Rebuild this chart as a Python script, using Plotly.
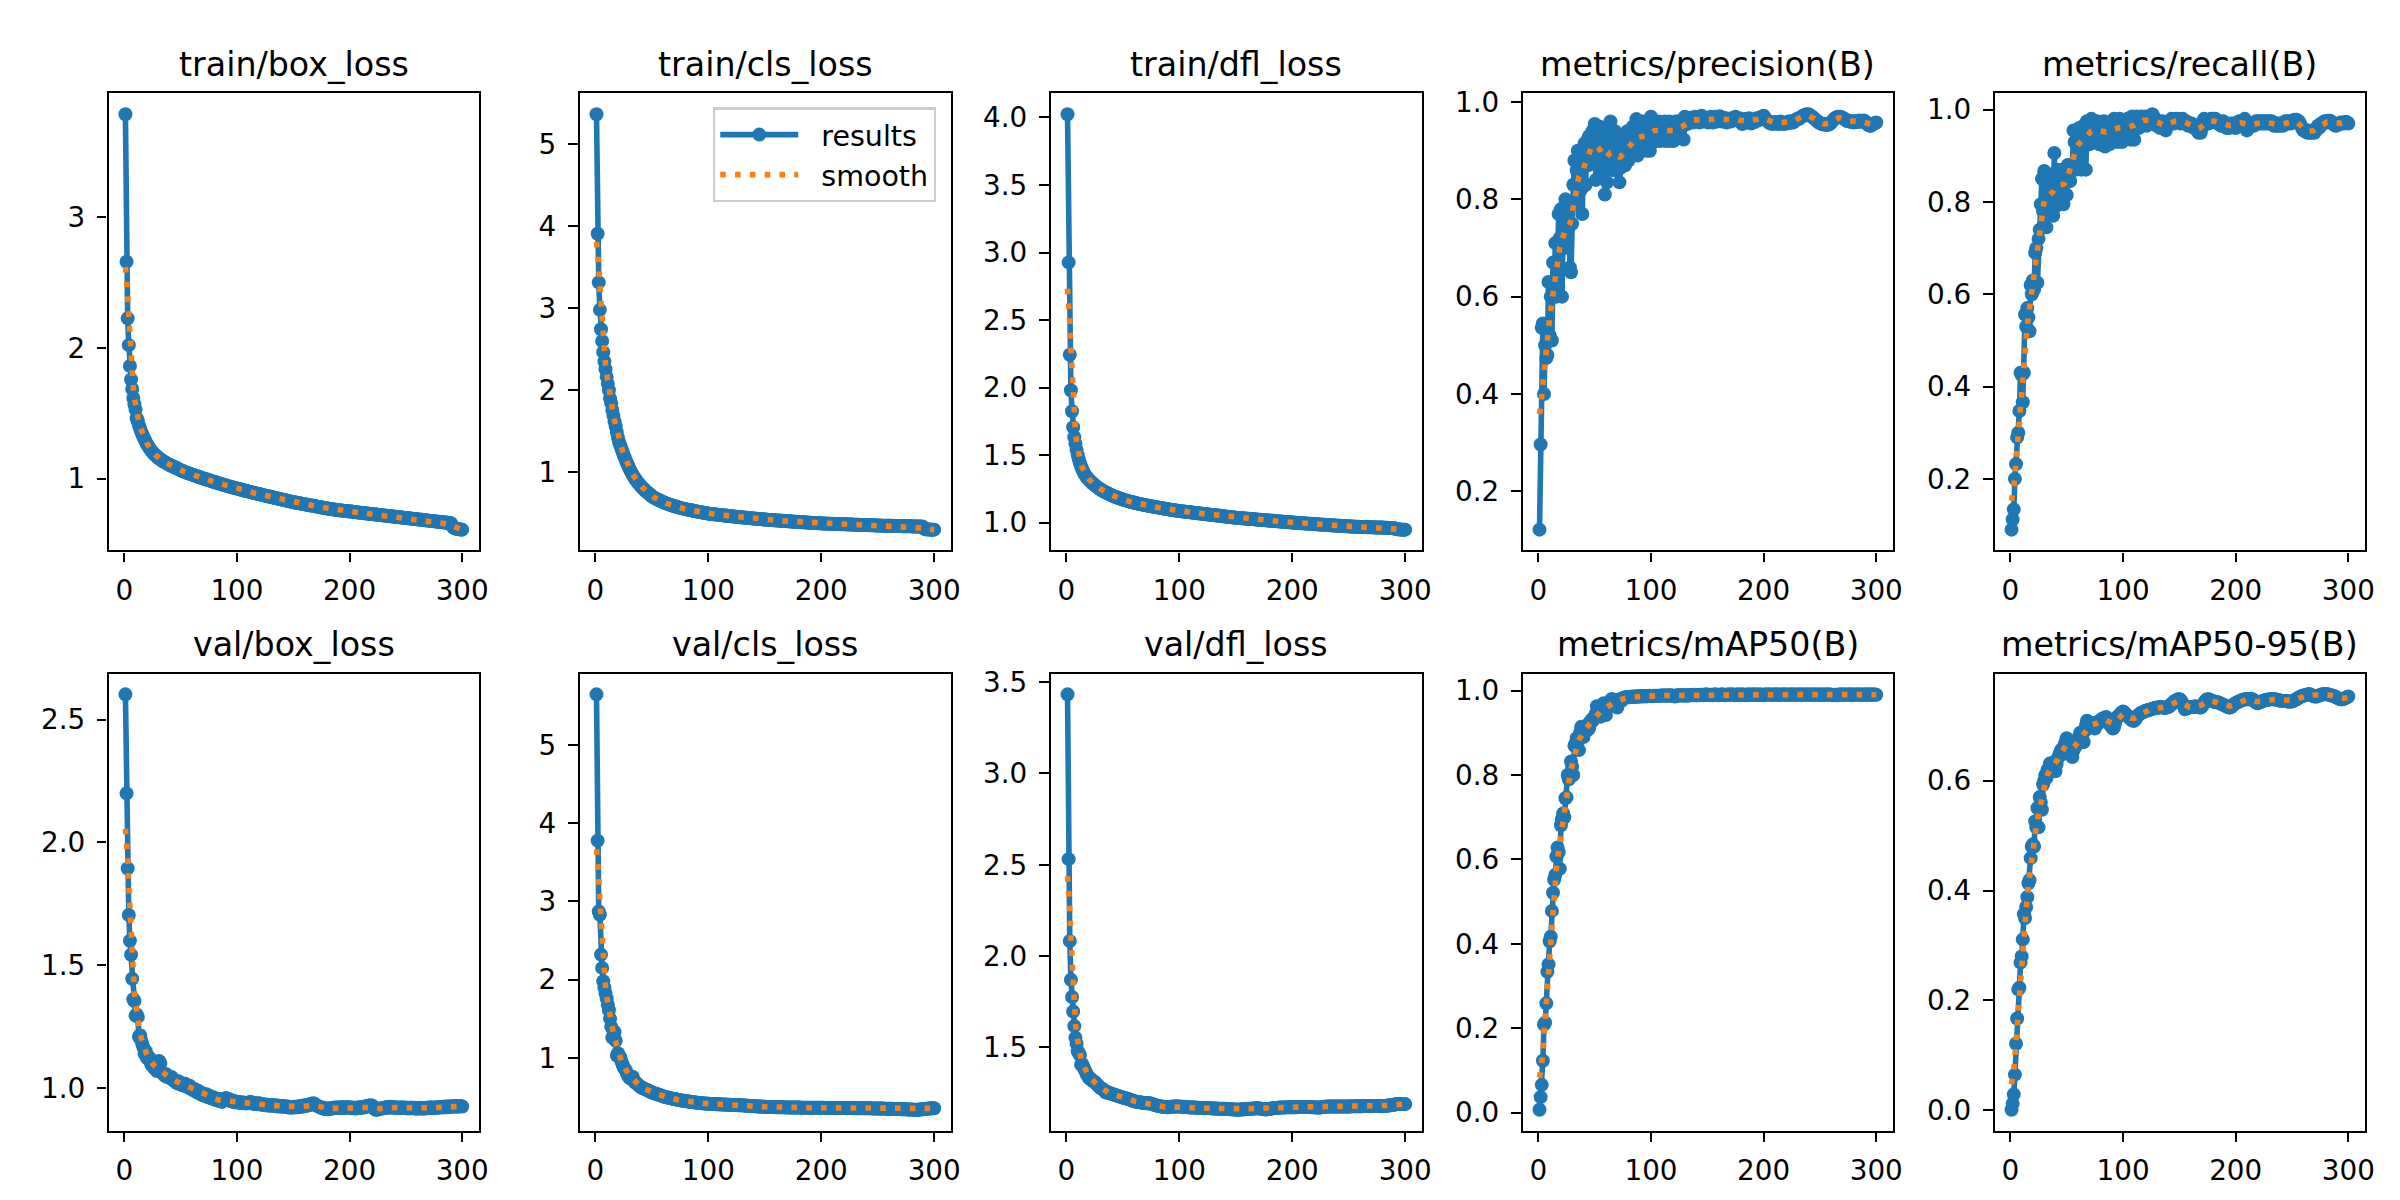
import numpy as np
import plotly.graph_objects as go

epochs = list(range(1, 301))

train_box_loss = [
3.789,2.660,2.227,2.022,1.862,1.759,1.687,1.617,1.570,1.530,
1.462,1.440,1.408,1.384,1.360,1.340,1.318,1.300,1.283,1.266,
1.252,1.238,1.226,1.213,1.204,1.192,1.185,1.176,1.170,1.160,
1.155,1.148,1.143,1.135,1.132,1.125,1.121,1.117,1.110,1.107,
1.103,1.097,1.095,1.089,1.087,1.081,1.079,1.073,1.071,1.064,
1.061,1.056,1.055,1.050,1.048,1.043,1.042,1.037,1.036,1.031,
1.030,1.025,1.024,1.019,1.018,1.013,1.012,1.007,1.006,1.002,
1.000,0.996,0.995,0.990,0.989,0.985,0.984,0.979,0.978,0.974,
0.973,0.968,0.968,0.963,0.962,0.958,0.957,0.952,0.952,0.947,
0.947,0.942,0.942,0.937,0.937,0.932,0.932,0.928,0.928,0.925,
0.922,0.921,0.917,0.917,0.912,0.912,0.908,0.908,0.903,0.903,
0.899,0.899,0.895,0.894,0.891,0.890,0.886,0.886,0.882,0.882,
0.878,0.877,0.874,0.873,0.870,0.869,0.866,0.865,0.862,0.861,
0.858,0.857,0.854,0.853,0.850,0.849,0.846,0.845,0.842,0.841,
0.838,0.837,0.834,0.833,0.830,0.829,0.826,0.825,0.822,0.820,
0.819,0.817,0.816,0.814,0.813,0.810,0.810,0.807,0.806,0.804,
0.803,0.801,0.800,0.797,0.797,0.794,0.794,0.791,0.790,0.788,
0.787,0.785,0.784,0.781,0.781,0.778,0.778,0.775,0.774,0.772,
0.771,0.770,0.768,0.767,0.766,0.764,0.763,0.762,0.760,0.759,
0.758,0.757,0.756,0.755,0.754,0.753,0.752,0.751,0.750,0.749,
0.748,0.748,0.746,0.745,0.745,0.743,0.742,0.742,0.740,0.739,
0.738,0.737,0.736,0.735,0.734,0.733,0.732,0.731,0.730,0.729,
0.728,0.727,0.726,0.725,0.724,0.723,0.722,0.721,0.720,0.719,
0.718,0.717,0.716,0.715,0.714,0.713,0.712,0.711,0.710,0.709,
0.708,0.707,0.706,0.705,0.704,0.703,0.702,0.701,0.700,0.699,
0.698,0.697,0.697,0.695,0.694,0.694,0.692,0.691,0.691,0.689,
0.688,0.688,0.686,0.685,0.685,0.683,0.682,0.682,0.680,0.679,
0.679,0.677,0.676,0.676,0.674,0.673,0.673,0.671,0.670,0.670,
0.668,0.667,0.667,0.665,0.664,0.664,0.662,0.661,0.661,0.659,
0.640,0.628,0.622,0.619,0.616,0.614,0.613,0.612,0.611,0.610]

train_cls_loss = [
5.365,3.907,3.315,2.980,2.744,2.600,2.464,2.350,2.255,2.163,
2.080,2.000,1.900,1.840,1.760,1.690,1.620,1.560,1.490,1.420,
1.370,1.330,1.290,1.250,1.210,1.180,1.140,1.110,1.080,1.050,
1.020,0.995,0.970,0.945,0.925,0.905,0.885,0.868,0.852,0.838,
0.820,0.806,0.792,0.779,0.767,0.755,0.744,0.732,0.720,0.708,
0.699,0.690,0.682,0.675,0.668,0.661,0.654,0.648,0.642,0.636,
0.630,0.624,0.619,0.614,0.609,0.604,0.599,0.594,0.590,0.586,
0.582,0.578,0.574,0.570,0.566,0.562,0.559,0.556,0.553,0.550,
0.547,0.544,0.541,0.538,0.535,0.532,0.529,0.526,0.523,0.521,
0.518,0.516,0.513,0.511,0.508,0.506,0.503,0.501,0.499,0.497,
0.494,0.492,0.491,0.489,0.488,0.486,0.484,0.483,0.481,0.480,
0.478,0.476,0.475,0.473,0.472,0.470,0.469,0.467,0.466,0.464,
0.463,0.461,0.460,0.458,0.457,0.455,0.454,0.452,0.451,0.449,
0.448,0.447,0.445,0.444,0.443,0.441,0.440,0.439,0.437,0.436,
0.435,0.434,0.432,0.431,0.430,0.429,0.427,0.426,0.425,0.424,
0.423,0.422,0.421,0.419,0.418,0.417,0.416,0.415,0.414,0.413,
0.412,0.411,0.410,0.409,0.408,0.407,0.406,0.405,0.404,0.403,
0.402,0.401,0.400,0.399,0.398,0.397,0.396,0.395,0.394,0.393,
0.392,0.391,0.390,0.389,0.389,0.388,0.387,0.386,0.385,0.384,
0.383,0.382,0.382,0.381,0.380,0.379,0.378,0.378,0.377,0.376,
0.375,0.375,0.374,0.374,0.373,0.373,0.372,0.372,0.371,0.371,
0.370,0.370,0.369,0.369,0.368,0.368,0.367,0.367,0.366,0.366,
0.365,0.365,0.364,0.364,0.363,0.363,0.362,0.362,0.361,0.361,
0.360,0.360,0.359,0.359,0.358,0.358,0.357,0.357,0.356,0.356,
0.355,0.355,0.354,0.354,0.353,0.353,0.352,0.352,0.351,0.351,
0.350,0.350,0.349,0.349,0.349,0.348,0.348,0.347,0.347,0.347,
0.346,0.346,0.346,0.345,0.345,0.344,0.344,0.344,0.343,0.343,
0.343,0.342,0.342,0.342,0.341,0.341,0.341,0.340,0.340,0.340,
0.339,0.339,0.339,0.338,0.338,0.338,0.337,0.337,0.337,0.336,
0.312,0.306,0.304,0.302,0.301,0.301,0.300,0.300,0.300,0.300]

train_dfl_loss = [
4.024,2.927,2.243,1.980,1.825,1.706,1.633,1.585,1.540,1.500,
1.468,1.440,1.416,1.395,1.377,1.362,1.348,1.336,1.326,1.317,
1.308,1.300,1.292,1.285,1.278,1.271,1.265,1.259,1.253,1.247,
1.242,1.237,1.232,1.227,1.223,1.219,1.215,1.211,1.207,1.203,
1.199,1.196,1.192,1.189,1.186,1.183,1.180,1.177,1.174,1.171,
1.168,1.166,1.163,1.161,1.158,1.156,1.154,1.152,1.150,1.148,
1.146,1.144,1.142,1.140,1.138,1.136,1.135,1.133,1.131,1.129,
1.128,1.126,1.124,1.123,1.121,1.120,1.118,1.117,1.115,1.114,
1.112,1.111,1.109,1.108,1.106,1.105,1.103,1.102,1.100,1.099,
1.098,1.096,1.095,1.094,1.092,1.091,1.090,1.088,1.087,1.086,
1.085,1.084,1.083,1.082,1.081,1.080,1.079,1.078,1.077,1.076,
1.075,1.074,1.073,1.072,1.071,1.070,1.069,1.068,1.067,1.066,
1.065,1.064,1.063,1.062,1.061,1.060,1.059,1.058,1.057,1.056,
1.055,1.054,1.053,1.052,1.051,1.050,1.049,1.048,1.047,1.046,
1.045,1.044,1.043,1.042,1.041,1.040,1.039,1.038,1.037,1.036,
1.035,1.035,1.034,1.033,1.033,1.032,1.031,1.031,1.030,1.029,
1.028,1.028,1.027,1.026,1.026,1.025,1.024,1.024,1.023,1.022,
1.021,1.021,1.020,1.019,1.019,1.018,1.017,1.016,1.016,1.015,
1.014,1.014,1.013,1.012,1.011,1.011,1.010,1.009,1.009,1.008,
1.007,1.006,1.006,1.005,1.004,1.004,1.003,1.002,1.001,1.000,
1.000,0.999,0.999,0.998,0.998,0.997,0.996,0.996,0.995,0.995,
0.994,0.994,0.993,0.992,0.992,0.991,0.991,0.990,0.989,0.989,
0.988,0.988,0.987,0.986,0.986,0.985,0.985,0.984,0.984,0.983,
0.982,0.982,0.981,0.981,0.980,0.979,0.979,0.978,0.978,0.977,
0.977,0.976,0.976,0.975,0.975,0.974,0.974,0.973,0.973,0.972,
0.972,0.971,0.971,0.971,0.970,0.970,0.969,0.969,0.969,0.968,
0.968,0.968,0.967,0.967,0.967,0.966,0.966,0.966,0.965,0.965,
0.965,0.965,0.964,0.964,0.964,0.964,0.963,0.963,0.963,0.963,
0.962,0.962,0.962,0.962,0.961,0.961,0.961,0.961,0.960,0.960,
0.955,0.952,0.951,0.950,0.949,0.949,0.948,0.948,0.948,0.948]

precision = [
0.121,0.296,0.536,0.545,0.400,0.500,0.474,0.480,0.630,0.520,
0.600,0.510,0.670,0.600,0.710,0.600,0.650,0.770,0.720,0.780,
0.600,0.750,0.700,0.800,0.780,0.740,0.790,0.660,0.650,0.750,
0.830,0.880,0.790,0.860,0.900,0.840,0.880,0.820,0.770,0.900,
0.915,0.830,0.920,0.870,0.930,0.900,0.880,0.940,0.920,0.955,
0.840,0.930,0.900,0.950,0.880,0.920,0.860,0.940,0.810,0.900,
0.835,0.930,0.870,0.960,0.880,0.910,0.860,0.940,0.890,0.870,
0.920,0.835,0.865,0.900,0.930,0.880,0.870,0.910,0.940,0.880,
0.900,0.930,0.890,0.950,0.910,0.940,0.965,0.890,0.920,0.950,
0.900,0.930,0.960,0.920,0.940,0.900,0.950,0.930,0.900,0.970,
0.950,0.930,0.960,0.940,0.920,0.950,0.960,0.920,0.940,0.950,
0.930,0.960,0.920,0.950,0.940,0.960,0.920,0.950,0.930,0.920,
0.950,0.960,0.940,0.960,0.950,0.930,0.960,0.950,0.923,0.970,
0.960,0.955,0.965,0.960,0.968,0.962,0.958,0.965,0.970,0.963,
0.960,0.965,0.958,0.968,0.972,0.965,0.960,0.963,0.967,0.962,
0.958,0.965,0.970,0.962,0.958,0.966,0.970,0.964,0.960,0.968,
0.971,0.965,0.960,0.963,0.968,0.962,0.958,0.961,0.966,0.963,
0.960,0.964,0.968,0.965,0.970,0.966,0.962,0.967,0.963,0.958,
0.955,0.960,0.965,0.962,0.958,0.963,0.967,0.961,0.956,0.960,
0.964,0.959,0.963,0.967,0.962,0.966,0.969,0.965,0.970,0.972,
0.968,0.965,0.962,0.960,0.958,0.956,0.958,0.955,0.957,0.959,
0.956,0.958,0.955,0.957,0.960,0.956,0.958,0.955,0.957,0.956,
0.958,0.960,0.957,0.959,0.961,0.958,0.960,0.962,0.964,0.966,
0.965,0.967,0.969,0.970,0.972,0.973,0.974,0.975,0.974,0.975,
0.973,0.971,0.970,0.968,0.966,0.964,0.962,0.960,0.958,0.957,
0.956,0.955,0.954,0.955,0.954,0.953,0.955,0.954,0.956,0.958,
0.961,0.964,0.966,0.968,0.969,0.970,0.969,0.970,0.969,0.968,
0.966,0.965,0.963,0.961,0.962,0.960,0.961,0.959,0.960,0.958,
0.960,0.961,0.959,0.960,0.962,0.960,0.961,0.959,0.962,0.960,
0.958,0.955,0.953,0.952,0.951,0.953,0.955,0.956,0.957,0.958]

recall = [
0.090,0.112,0.134,0.200,0.232,0.290,0.300,0.347,0.430,0.425,
0.366,0.430,0.556,0.530,0.570,0.550,0.520,0.620,0.600,0.630,
0.610,0.690,0.700,0.625,0.720,0.740,0.795,0.850,0.780,0.867,
0.840,0.745,0.800,0.860,0.780,0.830,0.800,0.770,0.906,0.790,
0.840,0.870,0.830,0.860,0.800,0.870,0.795,0.840,0.850,0.815,
0.880,0.860,0.845,0.880,0.870,0.955,0.930,0.870,0.950,0.925,
0.960,0.940,0.870,0.930,0.965,0.950,0.870,0.975,0.960,0.925,
0.970,0.980,0.930,0.960,0.970,0.940,0.975,0.950,0.925,0.970,
0.960,0.930,0.975,0.920,0.965,0.950,0.970,0.925,0.960,0.975,
0.940,0.980,0.960,0.970,0.930,0.975,0.980,0.960,0.930,0.975,
0.965,0.940,0.975,0.980,0.950,0.970,0.935,0.985,0.975,0.935,
0.970,0.985,0.975,0.960,0.980,0.985,0.970,0.975,0.985,0.980,
0.965,0.975,0.985,0.980,0.975,0.990,0.985,0.970,0.975,0.965,
0.970,0.975,0.960,0.970,0.975,0.965,0.960,0.955,0.965,0.970,
0.975,0.970,0.980,0.975,0.970,0.975,0.980,0.975,0.980,0.975,
0.970,0.975,0.980,0.975,0.970,0.975,0.970,0.965,0.970,0.965,
0.970,0.965,0.960,0.965,0.960,0.955,0.950,0.955,0.950,0.960,
0.975,0.980,0.975,0.970,0.975,0.970,0.975,0.980,0.975,0.980,
0.975,0.980,0.975,0.970,0.975,0.970,0.965,0.970,0.975,0.970,
0.965,0.960,0.965,0.960,0.965,0.970,0.965,0.970,0.965,0.960,
0.965,0.970,0.975,0.970,0.975,0.970,0.975,0.980,0.975,0.955,
0.960,0.965,0.970,0.965,0.970,0.965,0.970,0.975,0.970,0.975,
0.970,0.975,0.970,0.975,0.970,0.975,0.970,0.975,0.970,0.975,
0.970,0.975,0.970,0.965,0.970,0.965,0.970,0.965,0.970,0.965,
0.970,0.965,0.970,0.975,0.970,0.975,0.970,0.975,0.970,0.975,
0.975,0.978,0.975,0.978,0.975,0.975,0.970,0.965,0.960,0.955,
0.955,0.952,0.955,0.950,0.955,0.950,0.952,0.950,0.955,0.950,
0.955,0.960,0.965,0.960,0.965,0.970,0.968,0.972,0.975,0.972,
0.975,0.976,0.975,0.976,0.972,0.970,0.968,0.966,0.965,0.966,
0.968,0.970,0.972,0.970,0.972,0.970,0.972,0.974,0.972,0.970]

val_box_loss = [
2.603,2.200,1.894,1.705,1.600,1.543,1.445,1.362,1.355,1.295,
1.300,1.290,1.209,1.215,1.196,1.180,1.165,1.140,1.150,1.124,
1.130,1.115,1.120,1.095,1.100,1.085,1.080,1.090,1.070,1.080,
1.110,1.100,1.065,1.060,1.055,1.050,1.058,1.045,1.048,1.045,
1.040,1.045,1.035,1.030,1.032,1.025,1.020,1.028,1.018,1.015,
1.020,1.012,1.010,1.018,1.015,1.005,1.002,1.010,0.998,1.000,
0.992,0.990,0.995,0.985,0.982,0.988,0.978,0.975,0.980,0.970,
0.972,0.968,0.975,0.965,0.962,0.968,0.960,0.958,0.963,0.955,
0.952,0.958,0.950,0.948,0.955,0.946,0.944,0.950,0.955,0.960,
0.958,0.952,0.955,0.948,0.946,0.950,0.944,0.942,0.946,0.945,
0.942,0.940,0.944,0.941,0.938,0.942,0.939,0.937,0.940,0.938,
0.942,0.945,0.940,0.938,0.935,0.939,0.936,0.934,0.937,0.938,
0.934,0.932,0.935,0.931,0.930,0.933,0.929,0.931,0.928,0.930,
0.932,0.928,0.927,0.930,0.926,0.929,0.925,0.928,0.926,0.924,
0.927,0.925,0.923,0.926,0.922,0.924,0.920,0.923,0.921,0.922,
0.924,0.921,0.923,0.925,0.922,0.926,0.928,0.924,0.926,0.930,
0.927,0.929,0.932,0.930,0.934,0.936,0.933,0.938,0.935,0.932,
0.929,0.926,0.924,0.922,0.919,0.921,0.917,0.915,0.918,0.914,
0.916,0.918,0.915,0.917,0.920,0.918,0.921,0.919,0.922,0.920,
0.918,0.921,0.923,0.920,0.922,0.919,0.921,0.923,0.920,0.922,
0.920,0.918,0.921,0.919,0.917,0.920,0.918,0.922,0.919,0.921,
0.923,0.920,0.922,0.925,0.927,0.924,0.928,0.930,0.926,0.929,
0.925,0.918,0.912,0.914,0.912,0.915,0.917,0.916,0.919,0.918,
0.920,0.922,0.919,0.923,0.921,0.924,0.922,0.920,0.923,0.921,
0.919,0.922,0.920,0.918,0.921,0.919,0.922,0.920,0.918,0.921,
0.919,0.917,0.920,0.918,0.921,0.919,0.917,0.920,0.918,0.916,
0.919,0.917,0.920,0.918,0.916,0.919,0.917,0.920,0.918,0.921,
0.919,0.922,0.920,0.918,0.921,0.919,0.922,0.920,0.923,0.921,
0.922,0.924,0.921,0.923,0.925,0.922,0.924,0.926,0.923,0.925,
0.924,0.926,0.925,0.927,0.924,0.926,0.925,0.927,0.926,0.925]

val_cls_loss = [
5.645,3.776,2.870,2.830,2.320,2.150,1.980,1.900,1.830,1.760,
1.680,1.610,1.500,1.400,1.260,1.340,1.330,1.220,1.030,1.060,
1.020,1.010,0.960,0.920,0.880,0.860,0.840,0.800,0.770,0.750,
0.740,0.730,0.760,0.720,0.690,0.680,0.670,0.655,0.640,0.630,
0.620,0.615,0.610,0.600,0.595,0.590,0.585,0.570,0.565,0.560,
0.555,0.550,0.545,0.540,0.535,0.530,0.525,0.520,0.515,0.510,
0.505,0.500,0.497,0.493,0.490,0.487,0.483,0.480,0.477,0.474,
0.471,0.468,0.465,0.462,0.459,0.457,0.455,0.452,0.450,0.448,
0.446,0.444,0.442,0.440,0.438,0.436,0.434,0.432,0.430,0.428,
0.427,0.425,0.424,0.422,0.421,0.419,0.418,0.417,0.416,0.415,
0.414,0.413,0.412,0.412,0.411,0.410,0.409,0.409,0.408,0.407,
0.406,0.406,0.405,0.404,0.404,0.403,0.402,0.402,0.401,0.401,
0.400,0.400,0.399,0.398,0.398,0.397,0.396,0.396,0.395,0.394,
0.393,0.392,0.391,0.390,0.389,0.388,0.387,0.386,0.385,0.384,
0.383,0.382,0.381,0.380,0.380,0.379,0.378,0.377,0.376,0.375,
0.375,0.374,0.374,0.373,0.373,0.372,0.372,0.372,0.371,0.371,
0.371,0.370,0.370,0.370,0.369,0.369,0.369,0.368,0.368,0.368,
0.368,0.367,0.367,0.367,0.367,0.366,0.366,0.366,0.366,0.366,
0.366,0.365,0.365,0.365,0.365,0.365,0.365,0.364,0.364,0.364,
0.364,0.364,0.364,0.364,0.364,0.363,0.363,0.363,0.363,0.363,
0.363,0.363,0.362,0.362,0.362,0.362,0.362,0.362,0.362,0.361,
0.361,0.361,0.361,0.361,0.361,0.361,0.360,0.360,0.360,0.360,
0.360,0.360,0.360,0.359,0.359,0.359,0.359,0.359,0.359,0.358,
0.358,0.358,0.358,0.358,0.358,0.357,0.357,0.357,0.357,0.357,
0.356,0.356,0.356,0.356,0.355,0.355,0.355,0.355,0.354,0.354,
0.354,0.354,0.353,0.353,0.353,0.352,0.352,0.352,0.351,0.351,
0.351,0.350,0.350,0.349,0.349,0.348,0.348,0.347,0.347,0.346,
0.346,0.345,0.344,0.344,0.343,0.342,0.342,0.341,0.340,0.340,
0.339,0.339,0.338,0.338,0.338,0.339,0.340,0.341,0.343,0.345,
0.347,0.349,0.351,0.352,0.353,0.354,0.355,0.356,0.356,0.357]

val_dfl_loss = [
3.433,2.531,2.083,1.871,1.776,1.697,1.617,1.554,1.520,1.480,
1.470,1.459,1.406,1.410,1.395,1.380,1.368,1.355,1.345,1.332,
1.330,1.325,1.318,1.315,1.311,1.305,1.298,1.292,1.285,1.279,
1.276,1.272,1.268,1.262,1.253,1.257,1.250,1.252,1.248,1.247,
1.244,1.242,1.240,1.238,1.236,1.234,1.232,1.230,1.228,1.226,
1.224,1.222,1.221,1.219,1.217,1.215,1.213,1.210,1.208,1.205,
1.204,1.203,1.202,1.201,1.200,1.199,1.198,1.197,1.196,1.195,
1.195,1.194,1.194,1.193,1.193,1.190,1.188,1.186,1.184,1.182,
1.180,1.179,1.178,1.177,1.176,1.175,1.174,1.174,1.173,1.173,
1.174,1.175,1.176,1.176,1.177,1.177,1.177,1.177,1.177,1.177,
1.176,1.176,1.175,1.175,1.174,1.174,1.173,1.173,1.172,1.172,
1.172,1.171,1.171,1.171,1.170,1.170,1.170,1.169,1.169,1.169,
1.169,1.168,1.168,1.168,1.168,1.167,1.167,1.167,1.167,1.166,
1.166,1.166,1.166,1.165,1.165,1.165,1.165,1.164,1.164,1.164,
1.163,1.163,1.163,1.162,1.162,1.162,1.161,1.161,1.160,1.160,
1.159,1.159,1.160,1.160,1.161,1.161,1.162,1.162,1.163,1.163,
1.164,1.164,1.165,1.165,1.166,1.166,1.166,1.167,1.167,1.167,
1.166,1.165,1.164,1.163,1.162,1.161,1.161,1.162,1.163,1.164,
1.165,1.166,1.167,1.168,1.169,1.169,1.170,1.170,1.171,1.171,
1.171,1.172,1.172,1.172,1.173,1.173,1.173,1.173,1.173,1.173,
1.173,1.173,1.173,1.173,1.174,1.174,1.174,1.174,1.174,1.174,
1.174,1.174,1.174,1.174,1.174,1.174,1.173,1.173,1.173,1.172,
1.172,1.171,1.171,1.171,1.172,1.173,1.174,1.175,1.176,1.176,
1.177,1.177,1.177,1.177,1.177,1.177,1.177,1.177,1.177,1.177,
1.177,1.177,1.177,1.177,1.177,1.177,1.177,1.177,1.177,1.177,
1.177,1.177,1.178,1.178,1.178,1.178,1.178,1.178,1.178,1.178,
1.178,1.178,1.179,1.179,1.179,1.179,1.179,1.179,1.179,1.180,
1.180,1.180,1.180,1.180,1.180,1.180,1.180,1.180,1.180,1.180,
1.180,1.180,1.181,1.181,1.182,1.183,1.184,1.185,1.186,1.187,
1.188,1.189,1.190,1.190,1.191,1.191,1.191,1.191,1.190,1.190]

map50 = [
0.007,0.037,0.066,0.123,0.209,0.213,0.259,0.334,0.351,0.406,
0.417,0.478,0.521,0.552,0.563,0.607,0.628,0.617,0.578,0.681,
0.695,0.709,0.700,0.745,0.747,0.800,0.790,0.800,0.832,0.820,
0.800,0.869,0.875,0.887,0.880,0.859,0.900,0.914,0.905,0.890,
0.910,0.915,0.905,0.920,0.910,0.925,0.930,0.928,0.935,0.938,
0.945,0.963,0.950,0.940,0.938,0.955,0.960,0.970,0.965,0.942,
0.958,0.965,0.970,0.968,0.980,0.972,0.975,0.978,0.968,0.960,
0.972,0.978,0.980,0.976,0.982,0.983,0.984,0.983,0.985,0.985,
0.984,0.985,0.986,0.985,0.986,0.986,0.985,0.986,0.987,0.986,
0.986,0.987,0.986,0.987,0.987,0.986,0.987,0.987,0.988,0.987,
0.987,0.988,0.987,0.988,0.988,0.987,0.988,0.988,0.988,0.989,
0.988,0.988,0.989,0.988,0.988,0.989,0.988,0.989,0.988,0.987,
0.986,0.988,0.989,0.988,0.989,0.989,0.988,0.989,0.989,0.988,
0.989,0.989,0.988,0.989,0.989,0.990,0.989,0.989,0.990,0.989,
0.989,0.990,0.989,0.990,0.990,0.989,0.990,0.990,0.991,0.990,
0.990,0.989,0.990,0.990,0.989,0.990,0.991,0.990,0.990,0.989,
0.990,0.990,0.991,0.990,0.990,0.989,0.990,0.990,0.991,0.990,
0.990,0.991,0.990,0.989,0.990,0.990,0.991,0.990,0.990,0.990,
0.991,0.990,0.990,0.989,0.990,0.991,0.990,0.990,0.990,0.991,
0.990,0.990,0.991,0.990,0.990,0.990,0.991,0.990,0.989,0.990,
0.990,0.991,0.990,0.990,0.991,0.990,0.990,0.990,0.991,0.990,
0.990,0.991,0.990,0.990,0.990,0.991,0.990,0.990,0.991,0.990,
0.990,0.990,0.991,0.990,0.990,0.991,0.990,0.990,0.990,0.991,
0.990,0.990,0.991,0.990,0.990,0.990,0.991,0.990,0.990,0.991,
0.990,0.990,0.990,0.991,0.990,0.990,0.991,0.990,0.990,0.990,
0.991,0.990,0.990,0.990,0.991,0.990,0.990,0.991,0.990,0.990,
0.990,0.989,0.990,0.990,0.989,0.990,0.990,0.991,0.990,0.990,
0.991,0.990,0.990,0.990,0.991,0.990,0.990,0.991,0.990,0.990,
0.990,0.991,0.990,0.990,0.991,0.990,0.990,0.990,0.991,0.990,
0.990,0.991,0.990,0.990,0.991,0.990,0.990,0.991,0.990,0.990]

map50_95 = [
0.001,0.012,0.029,0.065,0.121,0.167,0.220,0.223,0.269,0.280,
0.311,0.357,0.350,0.370,0.388,0.413,0.419,0.459,0.480,0.484,
0.480,0.526,0.515,0.550,0.515,0.570,0.560,0.547,0.593,0.600,
0.610,0.605,0.620,0.615,0.631,0.625,0.628,0.633,0.622,0.617,
0.630,0.640,0.645,0.650,0.656,0.648,0.660,0.665,0.670,0.677,
0.672,0.668,0.660,0.650,0.643,0.655,0.660,0.663,0.670,0.675,
0.680,0.687,0.682,0.675,0.670,0.690,0.700,0.709,0.705,0.700,
0.698,0.702,0.705,0.700,0.695,0.702,0.706,0.704,0.708,0.710,
0.712,0.710,0.714,0.713,0.716,0.712,0.708,0.703,0.700,0.698,
0.695,0.697,0.705,0.712,0.716,0.718,0.720,0.722,0.724,0.726,
0.724,0.722,0.720,0.718,0.716,0.714,0.712,0.710,0.709,0.709,
0.712,0.715,0.718,0.720,0.722,0.723,0.724,0.725,0.726,0.727,
0.727,0.728,0.729,0.729,0.730,0.731,0.731,0.732,0.732,0.733,
0.733,0.733,0.734,0.734,0.733,0.733,0.732,0.733,0.733,0.734,
0.735,0.737,0.739,0.741,0.743,0.745,0.746,0.747,0.748,0.748,
0.747,0.744,0.740,0.735,0.730,0.731,0.732,0.733,0.733,0.734,
0.734,0.734,0.735,0.735,0.735,0.734,0.734,0.733,0.733,0.735,
0.738,0.742,0.745,0.747,0.748,0.748,0.747,0.746,0.745,0.744,
0.744,0.743,0.743,0.742,0.742,0.741,0.740,0.739,0.738,0.737,
0.736,0.735,0.734,0.733,0.733,0.734,0.736,0.738,0.740,0.741,
0.742,0.743,0.744,0.745,0.746,0.747,0.747,0.748,0.748,0.748,
0.748,0.748,0.749,0.748,0.748,0.746,0.744,0.742,0.741,0.741,
0.742,0.743,0.744,0.745,0.746,0.746,0.747,0.747,0.747,0.748,
0.748,0.748,0.748,0.748,0.748,0.747,0.747,0.746,0.746,0.746,
0.745,0.745,0.745,0.745,0.745,0.744,0.744,0.744,0.744,0.744,
0.745,0.746,0.747,0.748,0.750,0.751,0.752,0.753,0.754,0.755,
0.755,0.756,0.756,0.757,0.757,0.757,0.756,0.755,0.754,0.753,
0.753,0.753,0.754,0.755,0.756,0.756,0.757,0.757,0.757,0.757,
0.757,0.757,0.756,0.756,0.755,0.755,0.754,0.753,0.752,0.751,
0.750,0.749,0.748,0.748,0.748,0.749,0.750,0.751,0.752,0.753]

titles = ["train/box_loss", "train/cls_loss", "train/dfl_loss",
          "metrics/precision(B)", "metrics/recall(B)",
          "val/box_loss", "val/cls_loss", "val/dfl_loss",
          "metrics/mAP50(B)", "metrics/mAP50-95(B)"]
series = [train_box_loss, train_cls_loss, train_dfl_loss, precision, recall,
          val_box_loss, val_cls_loss, val_dfl_loss, map50, map50_95]
ytick_labels = [
    ["1", "2", "3"],
    ["1", "2", "3", "4", "5"],
    ["1.0", "1.5", "2.0", "2.5", "3.0", "3.5", "4.0"],
    ["0.2", "0.4", "0.6", "0.8", "1.0"],
    ["0.2", "0.4", "0.6", "0.8", "1.0"],
    ["1.0", "1.5", "2.0", "2.5"],
    ["1", "2", "3", "4", "5"],
    ["1.5", "2.0", "2.5", "3.0", "3.5"],
    ["0.0", "0.2", "0.4", "0.6", "0.8", "1.0"],
    ["0.0", "0.2", "0.4", "0.6"],
]
xtick_labels = ["0", "100", "200", "300"]
legend_names = ["results", "smooth"]

for s in series:
    assert len(s) == 300, len(s)


def gauss_smooth(y, sigma=3.0):
    y = np.asarray(y, float)
    r = int(4 * sigma + 0.5)
    k = np.exp(-0.5 * (np.arange(-r, r + 1) / sigma) ** 2)
    k /= k.sum()
    yp = np.pad(y, r, mode="symmetric")
    return np.convolve(yp, k, mode="valid")


W, H = 2400, 1200
col_px = [(101, 473), (574, 947), (1047, 1420), (1521, 1893), (1995, 2367)]
row_px = [(78, 538), (662, 1122)]
title_cy = [49, 633]
BLUE = "#1f77b4"
ORANGE = "#ff7f0e"
FONT = "DejaVu Sans"
LW = 2.2
NB = "\u00a0\u00a0"

fig = go.Figure()
layout = dict(
    width=W, height=H, autosize=False,
    margin=dict(l=0, r=0, t=0, b=0, pad=0),
    paper_bgcolor="white", plot_bgcolor="white",
    font=dict(family=FONT, color="black", size=28),
    showlegend=True,
    legend=dict(x=708 / W, y=1 - 92 / H, xanchor="left", yanchor="top",
                bgcolor="rgba(255,255,255,0.8)", bordercolor="#cccccc",
                borderwidth=2.2, font=dict(family=FONT, size=28.5, color="black"),
                itemwidth=78, tracegroupgap=0),
)
annotations = []
xr = [1 - 0.05 * 299, 300 + 0.05 * 299]

for i, (title, y) in enumerate(zip(titles, series)):
    r, c = divmod(i, 5)
    sm = gauss_smooth(y)
    ax = "" if i == 0 else str(i + 1)
    yarr = np.asarray(y, float)
    lo = min(yarr.min(), sm.min())
    hi = max(yarr.max(), sm.max())
    pad = 0.05 * (hi - lo)
    fig.add_trace(go.Scatter(
        x=epochs, y=y, mode="lines+markers", name=NB + legend_names[0],
        line=dict(color=BLUE, width=5.6),
        marker=dict(color=BLUE, size=14, line=dict(width=0)),
        xaxis="x" + ax, yaxis="y" + ax, showlegend=(i == 1)))
    fig.add_trace(go.Scatter(
        x=epochs, y=sm, mode="lines", name=NB + legend_names[1],
        line=dict(color=ORANGE, width=5.6, dash="5.6px,9.2px"),
        xaxis="x" + ax, yaxis="y" + ax, showlegend=(i == 1)))
    x0, x1 = col_px[c]
    y0, y1 = row_px[r]
    common = dict(showline=True, mirror=True, linecolor="black", linewidth=LW,
                  ticks="outside", ticklen=9.7, tickwidth=LW, tickcolor="black",
                  showgrid=False, zeroline=False,
                  tickfont=dict(family=FONT, size=27.8, color="black"))
    layout["xaxis" + ax] = dict(
        domain=[x0 / W, x1 / W], anchor="y" + ax, range=xr,
        tickvals=[float(t) for t in xtick_labels], ticktext=xtick_labels,
        ticklabelstandoff=4, **common)
    ytl = ytick_labels[i]
    layout["yaxis" + ax] = dict(
        domain=[1 - y1 / H, 1 - y0 / H], anchor="x" + ax, range=[lo - pad, hi + pad],
        tickvals=[float(t) for t in ytl], ticktext=ytl,
        ticklabelstandoff=6, **common)
    annotations.append(dict(
        text=title, x=(x0 + x1) / 2 / W, y=1 - title_cy[r] / H,
        xref="paper", yref="paper", xanchor="center", yanchor="middle",
        showarrow=False, font=dict(family=FONT, size=33.3, color="black")))

layout["annotations"] = annotations
fig.update_layout(**layout)
fig.write_html("out.html")
